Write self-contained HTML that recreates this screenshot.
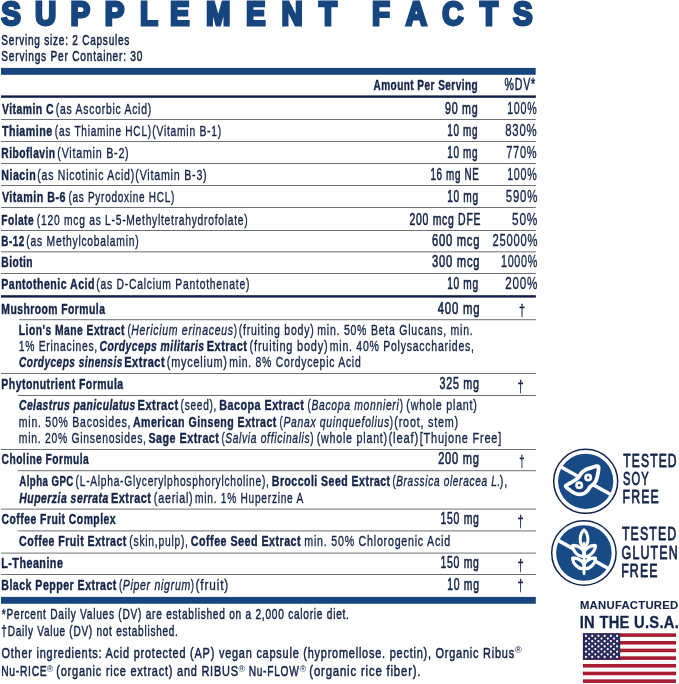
<!DOCTYPE html>
<html lang="en">
<head>
<meta charset="utf-8">
<title>Supplement Facts</title>
<style>
html,body{margin:0;padding:0;background:#fff;}
body{width:679px;height:684px;overflow:hidden;}
svg{display:block;}
text{font-family:"Liberation Sans",sans-serif;font-size:15.3px;fill:#14254a;stroke:#14254a;stroke-width:0;stroke-linejoin:round;}
.r{font-size:15.3px;font-weight:400;stroke-width:0.38;letter-spacing:1.1px;}
.i{font-size:15.3px;font-weight:400;stroke-width:0.38;letter-spacing:1.0px;}
.m{font-size:15.3px;font-weight:400;stroke-width:0.62;letter-spacing:1.1px;}
.b{font-size:15.5px;font-weight:700;stroke-width:0.45;letter-spacing:0.7px;}
.bi{font-size:15.5px;font-weight:700;stroke-width:0.45;letter-spacing:0.7px;}
.i,.bi{font-style:italic;}
</style>
</head>
<body>
<svg width="679" height="684" viewBox="0 0 679 684">
<rect width="679" height="684" fill="#ffffff"/>
<text class="b" transform="scale(0.9069,1)" style="font-size:32.4px;fill:#17467f;stroke:#17467f;stroke-width:2.8;stroke-linejoin:miter;letter-spacing:0" y="24.6" x="1.49 38.49 77.87 115.53 154.26 187.36 227.02 271.30 310.42 351.77 371.56 410.28 447.30 487.72 529.29 565.77">SUPPLEMENT FACTS</text>
<text y="45.00"><tspan x="1.34" textLength="128.78" lengthAdjust="spacingAndGlyphs" class="m" style="font-size:14.4px;stroke-width:0.55;">Serving size: 2 Capsules</tspan></text>
<text y="61.00"><tspan x="1.34" textLength="141.83" lengthAdjust="spacingAndGlyphs" class="m" style="font-size:14.4px;stroke-width:0.55;">Servings Per Container: 30</tspan></text>
<rect x="1.00" y="67.90" width="534.70" height="6.90" fill="#17467f"/>
<rect x="1.00" y="95.40" width="534.90" height="2.40" fill="#101f45"/>
<text y="90.00"><tspan x="373.50" textLength="104.62" lengthAdjust="spacingAndGlyphs" class="b">Amount Per Serving</tspan> <tspan x="504.62" textLength="31.17" lengthAdjust="spacingAndGlyphs" class="m" style="font-size:16.0px;stroke-width:0.5;">%DV*</tspan></text>
<text y="113.90"><tspan x="1.93" textLength="52.07" lengthAdjust="spacingAndGlyphs" class="b">Vitamin C</tspan> <tspan x="55.86" textLength="96.01" lengthAdjust="spacingAndGlyphs" class="r">(as Ascorbic Acid)</tspan> <tspan x="445.00" textLength="33.42" lengthAdjust="spacingAndGlyphs" class="m" style="font-size:16.2px;">90 mg</tspan> <tspan x="507.19" textLength="30.16" lengthAdjust="spacingAndGlyphs" class="r" style="font-size:16.3px;">100%</tspan></text>
<rect x="1.00" y="119.00" width="534.90" height="1.00" fill="#6c7075"/>
<text y="135.90"><tspan x="1.88" textLength="50.72" lengthAdjust="spacingAndGlyphs" class="b">Thiamine</tspan> <tspan x="54.87" textLength="96.98" lengthAdjust="spacingAndGlyphs" class="r">(as Thiamine HCL)</tspan> <tspan x="152.36" textLength="69.51" lengthAdjust="spacingAndGlyphs" class="r">(Vitamin B-1)</tspan> <tspan x="447.24" textLength="31.08" lengthAdjust="spacingAndGlyphs" class="m" style="font-size:16.2px;">10 mg</tspan> <tspan x="505.26" textLength="32.17" lengthAdjust="spacingAndGlyphs" class="r" style="font-size:16.3px;">830%</tspan></text>
<rect x="1.00" y="141.00" width="534.90" height="1.00" fill="#6c7075"/>
<text y="157.70"><tspan x="1.31" textLength="54.29" lengthAdjust="spacingAndGlyphs" class="b">Riboflavin</tspan> <tspan x="57.34" textLength="72.09" lengthAdjust="spacingAndGlyphs" class="r">(Vitamin B-2)</tspan> <tspan x="447.24" textLength="31.08" lengthAdjust="spacingAndGlyphs" class="m" style="font-size:16.2px;">10 mg</tspan> <tspan x="506.18" textLength="31.20" lengthAdjust="spacingAndGlyphs" class="r" style="font-size:16.3px;">770%</tspan></text>
<rect x="1.00" y="163.00" width="534.90" height="1.00" fill="#6c7075"/>
<text y="179.70"><tspan x="1.29" textLength="34.85" lengthAdjust="spacingAndGlyphs" class="b">Niacin</tspan> <tspan x="37.35" textLength="97.54" lengthAdjust="spacingAndGlyphs" class="r">(as Nicotinic Acid)</tspan> <tspan x="135.34" textLength="72.09" lengthAdjust="spacingAndGlyphs" class="r">(Vitamin B-3)</tspan> <tspan x="430.50" textLength="48.83" lengthAdjust="spacingAndGlyphs" class="m" style="font-size:16.2px;">16 mg NE</tspan> <tspan x="507.19" textLength="30.16" lengthAdjust="spacingAndGlyphs" class="r" style="font-size:16.3px;">100%</tspan></text>
<rect x="1.00" y="185.00" width="534.90" height="1.00" fill="#6c7075"/>
<text y="201.70"><tspan x="1.93" textLength="63.94" lengthAdjust="spacingAndGlyphs" class="b">Vitamin B-6</tspan> <tspan x="68.38" textLength="106.71" lengthAdjust="spacingAndGlyphs" class="r">(as Pyrodoxine HCL)</tspan> <tspan x="447.23" textLength="31.61" lengthAdjust="spacingAndGlyphs" class="m" style="font-size:16.2px;">10 mg</tspan> <tspan x="505.79" textLength="32.39" lengthAdjust="spacingAndGlyphs" class="r" style="font-size:16.3px;">590%</tspan></text>
<rect x="1.00" y="207.00" width="534.90" height="1.00" fill="#6c7075"/>
<text y="224.50"><tspan x="1.32" textLength="32.74" lengthAdjust="spacingAndGlyphs" class="b">Folate</tspan> <tspan x="36.86" textLength="211.51" lengthAdjust="spacingAndGlyphs" class="r">(120 mcg as L-5-Methyltetrahydrofolate)</tspan> <tspan x="409.47" textLength="71.68" lengthAdjust="spacingAndGlyphs" class="m" style="font-size:16.2px;">200 mcg DFE</tspan> <tspan x="512.02" textLength="26.20" lengthAdjust="spacingAndGlyphs" class="r" style="font-size:16.3px;">50%</tspan></text>
<rect x="1.00" y="230.00" width="534.90" height="1.00" fill="#6c7075"/>
<text y="246.10"><tspan x="1.34" textLength="23.26" lengthAdjust="spacingAndGlyphs" class="b">B-12</tspan> <tspan x="26.36" textLength="113.02" lengthAdjust="spacingAndGlyphs" class="r">(as Methylcobalamin)</tspan> <tspan x="431.93" textLength="48.30" lengthAdjust="spacingAndGlyphs" class="m" style="font-size:16.2px;">600 mcg</tspan> <tspan x="492.44" textLength="45.72" lengthAdjust="spacingAndGlyphs" class="r" style="font-size:16.3px;">25000%</tspan></text>
<rect x="1.00" y="251.35" width="534.90" height="1.00" fill="#6c7075"/>
<text y="267.30"><tspan x="1.31" textLength="31.78" lengthAdjust="spacingAndGlyphs" class="b">Biotin</tspan> <tspan x="432.07" textLength="48.15" lengthAdjust="spacingAndGlyphs" class="m" style="font-size:16.2px;">300 mcg</tspan> <tspan x="500.93" textLength="37.18" lengthAdjust="spacingAndGlyphs" class="r" style="font-size:16.3px;">1000%</tspan></text>
<rect x="1.00" y="273.00" width="534.90" height="1.00" fill="#6c7075"/>
<text y="289.00"><tspan x="1.30" textLength="93.62" lengthAdjust="spacingAndGlyphs" class="b">Pantothenic Acid</tspan> <tspan x="96.36" textLength="153.78" lengthAdjust="spacingAndGlyphs" class="r">(as D-Calcium Pantothenate)</tspan> <tspan x="447.23" textLength="31.61" lengthAdjust="spacingAndGlyphs" class="m" style="font-size:16.2px;">10 mg</tspan> <tspan x="505.16" textLength="33.04" lengthAdjust="spacingAndGlyphs" class="r" style="font-size:16.3px;">200%</tspan></text>
<rect x="1.00" y="295.20" width="534.90" height="2.40" fill="#101f45"/>
<text y="313.60"><tspan x="1.31" textLength="104.09" lengthAdjust="spacingAndGlyphs" class="b">Mushroom Formula</tspan> <tspan x="437.74" textLength="42.51" lengthAdjust="spacingAndGlyphs" class="m" style="font-size:16.2px;">400 mg</tspan></text>
<text y="315.80"><tspan x="519.07" textLength="6.06" lengthAdjust="spacingAndGlyphs" class="r" style="font-size:17.3px;stroke-width:0.35;letter-spacing:0.0001px;">†</tspan></text>
<rect x="19.30" y="319.20" width="516.60" height="1.00" fill="#6c7075"/>
<text y="334.50"><tspan x="18.81" textLength="106.03" lengthAdjust="spacingAndGlyphs" class="b">Lion's Mane Extract</tspan> <tspan x="127.39" textLength="3.97" lengthAdjust="spacingAndGlyphs" class="r">(</tspan><tspan x="131.18" textLength="102.53" lengthAdjust="spacingAndGlyphs" class="i">Hericium erinaceus</tspan><tspan x="233.64" textLength="3.89" lengthAdjust="spacingAndGlyphs" class="r">)</tspan> <tspan x="238.85" textLength="75.56" lengthAdjust="spacingAndGlyphs" class="r">(fruiting body)</tspan> <tspan x="317.30" textLength="156.17" lengthAdjust="spacingAndGlyphs" class="r">min. 50% Beta Glucans, min.</tspan></text>
<text y="351.20"><tspan x="18.71" textLength="79.20" lengthAdjust="spacingAndGlyphs" class="r">1% Erinacines,</tspan> <tspan x="99.49" textLength="105.08" lengthAdjust="spacingAndGlyphs" class="bi">Cordyceps militaris</tspan> <tspan x="206.77" textLength="40.61" lengthAdjust="spacingAndGlyphs" class="b">Extract</tspan> <tspan x="249.62" textLength="78.85" lengthAdjust="spacingAndGlyphs" class="r">(fruiting body)</tspan> <tspan x="329.80" textLength="144.89" lengthAdjust="spacingAndGlyphs" class="r">min. 40% Polysaccharides,</tspan></text>
<text y="366.75"><tspan x="19.01" textLength="103.80" lengthAdjust="spacingAndGlyphs" class="bi">Cordyceps sinensis</tspan> <tspan x="124.26" textLength="40.87" lengthAdjust="spacingAndGlyphs" class="b">Extract</tspan> <tspan x="166.83" textLength="60.88" lengthAdjust="spacingAndGlyphs" class="r">(mycelium)</tspan> <tspan x="229.31" textLength="132.10" lengthAdjust="spacingAndGlyphs" class="r">min. 8% Cordycepic Acid</tspan></text>
<rect x="1.00" y="373.00" width="534.90" height="1.00" fill="#6c7075"/>
<text y="388.50"><tspan x="1.30" textLength="122.36" lengthAdjust="spacingAndGlyphs" class="b">Phytonutrient Formula</tspan> <tspan x="439.59" textLength="40.07" lengthAdjust="spacingAndGlyphs" class="m" style="font-size:16.2px;">325 mg</tspan></text>
<text y="391.50"><tspan x="517.55" textLength="6.20" lengthAdjust="spacingAndGlyphs" class="r" style="font-size:17.3px;stroke-width:0.35;letter-spacing:0.0001px;">†</tspan></text>
<rect x="17.70" y="395.00" width="518.20" height="1.00" fill="#6c7075"/>
<text y="410.25"><tspan x="19.00" textLength="116.82" lengthAdjust="spacingAndGlyphs" class="bi">Celastrus paniculatus</tspan> <tspan x="137.51" textLength="41.13" lengthAdjust="spacingAndGlyphs" class="b">Extract</tspan> <tspan x="180.62" textLength="36.51" lengthAdjust="spacingAndGlyphs" class="r">(seed),</tspan> <tspan x="219.28" textLength="85.09" lengthAdjust="spacingAndGlyphs" class="b">Bacopa Extract</tspan> <tspan x="307.59" textLength="3.97" lengthAdjust="spacingAndGlyphs" class="r">(</tspan><tspan x="311.48" textLength="87.96" lengthAdjust="spacingAndGlyphs" class="i">Bacopa monnieri</tspan><tspan x="399.84" textLength="3.97" lengthAdjust="spacingAndGlyphs" class="r">)</tspan> <tspan x="406.34" textLength="71.35" lengthAdjust="spacingAndGlyphs" class="r">(whole plant)</tspan></text>
<text y="426.50"><tspan x="18.80" textLength="112.40" lengthAdjust="spacingAndGlyphs" class="r">min. 50% Bacosides,</tspan> <tspan x="132.99" textLength="143.87" lengthAdjust="spacingAndGlyphs" class="b">American Ginseng Extract</tspan> <tspan x="279.59" textLength="3.97" lengthAdjust="spacingAndGlyphs" class="r">(</tspan><tspan x="283.48" textLength="106.41" lengthAdjust="spacingAndGlyphs" class="i">Panax quinquefolius</tspan><tspan x="389.84" textLength="3.97" lengthAdjust="spacingAndGlyphs" class="r">)</tspan> <tspan x="394.33" textLength="64.62" lengthAdjust="spacingAndGlyphs" class="r">(root, stem)</tspan></text>
<text y="442.80"><tspan x="18.81" textLength="127.86" lengthAdjust="spacingAndGlyphs" class="r">min. 20% Ginsenosides,</tspan> <tspan x="148.44" textLength="70.93" lengthAdjust="spacingAndGlyphs" class="b">Sage Extract</tspan> <tspan x="221.39" textLength="3.97" lengthAdjust="spacingAndGlyphs" class="r">(</tspan><tspan x="225.21" textLength="85.17" lengthAdjust="spacingAndGlyphs" class="i">Salvia officinalis</tspan><tspan x="310.34" textLength="3.97" lengthAdjust="spacingAndGlyphs" class="r">)</tspan> <tspan x="316.74" textLength="71.19" lengthAdjust="spacingAndGlyphs" class="r">(whole plant)</tspan> <tspan x="388.55" textLength="30.45" lengthAdjust="spacingAndGlyphs" class="r">(leaf)</tspan> <tspan x="419.72" textLength="82.35" lengthAdjust="spacingAndGlyphs" class="r">[Thujone Free]</tspan></text>
<rect x="1.00" y="449.00" width="534.90" height="1.00" fill="#6c7075"/>
<text y="464.20"><tspan x="1.58" textLength="87.57" lengthAdjust="spacingAndGlyphs" class="b">Choline Formula</tspan> <tspan x="438.19" textLength="41.53" lengthAdjust="spacingAndGlyphs" class="m" style="font-size:16.2px;">200 mg</tspan></text>
<text y="466.60"><tspan x="519.36" textLength="5.27" lengthAdjust="spacingAndGlyphs" class="r" style="font-size:17.3px;stroke-width:0.35;letter-spacing:0.0001px;">†</tspan></text>
<rect x="17.70" y="470.20" width="518.20" height="1.00" fill="#6c7075"/>
<text y="485.75"><tspan x="19.26" textLength="54.44" lengthAdjust="spacingAndGlyphs" class="b">Alpha GPC</tspan> <tspan x="75.62" textLength="194.04" lengthAdjust="spacingAndGlyphs" class="r">(L-Alpha-Glycerylphosphorylcholine),</tspan> <tspan x="271.80" textLength="118.81" lengthAdjust="spacingAndGlyphs" class="b">Broccoli Seed Extract</tspan> <tspan x="392.39" textLength="3.97" lengthAdjust="spacingAndGlyphs" class="r">(</tspan><tspan x="396.19" textLength="104.71" lengthAdjust="spacingAndGlyphs" class="i">Brassica oleracea L.</tspan><tspan x="499.84" textLength="8.16" lengthAdjust="spacingAndGlyphs" class="r">),</tspan></text>
<text y="502.60"><tspan x="19.32" textLength="89.46" lengthAdjust="spacingAndGlyphs" class="bi">Huperzia serrata</tspan> <tspan x="111.02" textLength="40.35" lengthAdjust="spacingAndGlyphs" class="b">Extract</tspan> <tspan x="153.83" textLength="39.60" lengthAdjust="spacingAndGlyphs" class="r">(aerial)</tspan> <tspan x="195.08" textLength="108.92" lengthAdjust="spacingAndGlyphs" class="r">min. 1% Huperzine A</tspan></text>
<rect x="1.00" y="508.60" width="534.90" height="1.00" fill="#6c7075"/>
<text y="524.30"><tspan x="1.57" textLength="114.47" lengthAdjust="spacingAndGlyphs" class="b">Coffee Fruit Complex</tspan> <tspan x="440.45" textLength="39.18" lengthAdjust="spacingAndGlyphs" class="m" style="font-size:16.2px;">150 mg</tspan></text>
<text y="526.60"><tspan x="517.55" textLength="6.20" lengthAdjust="spacingAndGlyphs" class="r" style="font-size:17.3px;stroke-width:0.35;letter-spacing:0.0001px;">†</tspan></text>
<rect x="17.70" y="530.40" width="518.20" height="1.00" fill="#6c7075"/>
<text y="546.20"><tspan x="19.07" textLength="107.79" lengthAdjust="spacingAndGlyphs" class="b">Coffee Fruit Extract</tspan> <tspan x="129.36" textLength="59.31" lengthAdjust="spacingAndGlyphs" class="r">(skin,pulp),</tspan> <tspan x="190.81" textLength="110.30" lengthAdjust="spacingAndGlyphs" class="b">Coffee Seed Extract</tspan> <tspan x="304.29" textLength="146.65" lengthAdjust="spacingAndGlyphs" class="r">min. 50% Chlorogenic Acid</tspan></text>
<rect x="1.00" y="552.60" width="534.90" height="1.00" fill="#6c7075"/>
<text y="568.40"><tspan x="1.28" textLength="62.07" lengthAdjust="spacingAndGlyphs" class="b">L-Theanine</tspan> <tspan x="440.45" textLength="39.18" lengthAdjust="spacingAndGlyphs" class="m" style="font-size:16.2px;">150 mg</tspan></text>
<text y="570.50"><tspan x="517.55" textLength="6.20" lengthAdjust="spacingAndGlyphs" class="r" style="font-size:17.3px;stroke-width:0.35;letter-spacing:0.0001px;">†</tspan></text>
<rect x="1.00" y="574.00" width="534.90" height="1.00" fill="#6c7075"/>
<text y="589.75"><tspan x="1.29" textLength="115.57" lengthAdjust="spacingAndGlyphs" class="b">Black Pepper Extract</tspan> <tspan x="118.89" textLength="3.97" lengthAdjust="spacingAndGlyphs" class="r">(</tspan><tspan x="122.67" textLength="68.31" lengthAdjust="spacingAndGlyphs" class="i">Piper nigrum</tspan><tspan x="190.64" textLength="3.89" lengthAdjust="spacingAndGlyphs" class="r">)</tspan> <tspan x="195.52" textLength="33.57" lengthAdjust="spacingAndGlyphs" class="r">(fruit)</tspan> <tspan x="447.21" textLength="32.42" lengthAdjust="spacingAndGlyphs" class="m" style="font-size:16.2px;">10 mg</tspan></text>
<text y="591.30"><tspan x="517.55" textLength="6.20" lengthAdjust="spacingAndGlyphs" class="r" style="font-size:17.3px;stroke-width:0.35;letter-spacing:0.0001px;">†</tspan></text>
<rect x="1.00" y="596.90" width="534.80" height="6.85" fill="#17467f"/>
<text y="618.75"><tspan x="1.84" textLength="347.84" lengthAdjust="spacingAndGlyphs" class="m" style="font-size:14.8px;stroke-width:0.5;">*Percent Daily Values (DV) are established on a 2,000 calorie diet.</tspan></text>
<text y="635.50"><tspan x="1.33" textLength="177.33" lengthAdjust="spacingAndGlyphs" class="m" style="font-size:14.8px;stroke-width:0.5;">†Daily Value (DV) not established.</tspan></text>
<text y="657.50"><tspan x="1.48" textLength="513.44" lengthAdjust="spacingAndGlyphs" class="m" style="font-size:15.4px;stroke-width:0.55;">Other ingredients: Acid protected (AP) vegan capsule (hypromellose. pectin), Organic Ribus</tspan><tspan x="514.86" textLength="8.27" lengthAdjust="spacingAndGlyphs" class="r" style="font-size:8.6px;stroke-width:0.0;" dy="-4.3">®</tspan></text>
<text y="676.25"><tspan x="1.16" textLength="46.27" lengthAdjust="spacingAndGlyphs" class="m" style="font-size:15.4px;stroke-width:0.55;">Nu-RICE</tspan><tspan x="46.87" textLength="7.65" lengthAdjust="spacingAndGlyphs" class="r" style="font-size:8.6px;stroke-width:0.0;" dy="-4.3">®</tspan> <tspan x="56.32" textLength="182.46" lengthAdjust="spacingAndGlyphs" class="m" style="font-size:15.4px;stroke-width:0.55;" dy="4.3">(organic rice extract) and RIBUS</tspan><tspan x="238.62" textLength="7.65" lengthAdjust="spacingAndGlyphs" class="r" style="font-size:8.6px;stroke-width:0.0;" dy="-4.3">®</tspan> <tspan x="248.67" textLength="50.85" lengthAdjust="spacingAndGlyphs" class="m" style="font-size:15.4px;stroke-width:0.55;" dy="4.3">Nu-FLOW</tspan><tspan x="299.87" textLength="7.65" lengthAdjust="spacingAndGlyphs" class="r" style="font-size:8.6px;stroke-width:0.0;" dy="-4.3">®</tspan> <tspan x="309.29" textLength="112.06" lengthAdjust="spacingAndGlyphs" class="m" style="font-size:15.4px;stroke-width:0.55;" dy="4.3">(organic rice fiber).</tspan></text>
<g><circle cx="585.7" cy="481.3" r="32.0" fill="#fff" stroke="#14264f" stroke-width="1.5"/><circle cx="585.7" cy="481.3" r="27.6" fill="#184a86"/><line x1="559.35" y1="465.92" x2="611.66" y2="494.91" stroke="#fff" stroke-width="3.5"/><path d="M565.63,485.98 C565.85,484.98 568.39,484.16 569.94,483.19 C571.49,482.23 573.42,481.26 574.91,480.21 C576.40,479.16 577.78,478.11 578.89,476.90 C579.99,475.68 580.32,474.16 581.54,472.92 C582.75,471.69 584.46,470.36 586.18,469.48 C587.89,468.59 590.04,468.18 591.81,467.62 C593.58,467.06 595.65,466.21 596.78,466.10 C597.91,465.99 598.31,466.10 598.57,466.96 C598.82,467.82 598.49,469.77 598.30,471.27 C598.12,472.76 597.83,474.36 597.44,475.90 C597.06,477.45 596.65,479.20 595.98,480.54 C595.32,481.89 594.47,482.91 593.47,483.99 C592.46,485.07 590.89,485.98 589.95,487.04 C589.01,488.10 588.74,489.34 587.83,490.35 C586.93,491.37 585.96,492.45 584.52,493.13 C583.08,493.82 581.04,494.55 579.22,494.46 C577.40,494.37 575.35,493.49 573.59,492.60 C571.82,491.72 569.94,490.26 568.61,489.16 C567.29,488.05 565.41,486.97 565.63,485.98Z" fill="#15407a" stroke="#fff" stroke-width="3.8" stroke-linejoin="round"/><circle cx="588.16" cy="477.56" r="4.0" fill="#fff"/><circle cx="588.16" cy="477.56" r="1.2" fill="#15407a"/><circle cx="579.22" cy="485.18" r="4.0" fill="#fff"/><circle cx="579.22" cy="485.18" r="1.2" fill="#15407a"/></g>
<g><circle cx="583.9" cy="553.0" r="32.2" fill="#fff" stroke="#14264f" stroke-width="1.5"/><circle cx="583.9" cy="553.0" r="27.8" fill="#184a86"/><line x1="556.81" y1="539.65" x2="609.66" y2="569.18" stroke="#fff" stroke-width="3.5"/><path d="M584.05,547.06 C589.59,544.49 588.77,534.23 584.05,529.95 C579.34,534.23 578.52,544.49 584.05,547.06Z M584.05,555.78 C585.69,550.52 578.33,544.86 572.61,545.42 C572.62,551.17 578.99,557.93 584.05,555.78Z M584.05,555.78 C589.12,557.93 595.49,551.17 595.50,545.42 C589.78,544.86 582.42,550.52 584.05,555.78Z M584.05,568.09 C585.65,562.83 578.29,557.31 572.61,557.96 C572.65,563.68 579.02,570.31 584.05,568.09Z M584.05,568.09 C589.08,570.31 595.46,563.68 595.50,557.96 C589.81,557.31 582.46,562.83 584.05,568.09Z" fill="#184a86" stroke="#fff" stroke-width="3.1" stroke-linejoin="round"/><line x1="584.05" y1="543.24" x2="584.05" y2="573.76" stroke="#fff" stroke-width="2.9" stroke-linecap="round"/></g>
<text y="466.80"><tspan x="623.33" textLength="54.35" lengthAdjust="spacingAndGlyphs" class="m" style="font-size:18.8px;stroke-width:0.85;letter-spacing:1.7px;">TESTED</tspan></text>
<text y="485.40"><tspan x="623.10" textLength="26.45" lengthAdjust="spacingAndGlyphs" class="m" style="font-size:18.8px;stroke-width:0.85;letter-spacing:1.7px;">SOY</tspan></text>
<text y="503.10"><tspan x="622.59" textLength="37.25" lengthAdjust="spacingAndGlyphs" class="m" style="font-size:18.8px;stroke-width:0.85;letter-spacing:1.7px;">FREE</tspan></text>
<text y="539.90"><tspan x="621.92" textLength="55.49" lengthAdjust="spacingAndGlyphs" class="m" style="font-size:18.8px;stroke-width:0.85;letter-spacing:1.7px;">TESTED</tspan></text>
<text y="558.50"><tspan x="621.57" textLength="57.27" lengthAdjust="spacingAndGlyphs" class="m" style="font-size:18.8px;stroke-width:0.85;letter-spacing:1.7px;">GLUTEN</tspan></text>
<text y="576.60"><tspan x="621.19" textLength="37.46" lengthAdjust="spacingAndGlyphs" class="m" style="font-size:18.8px;stroke-width:0.85;letter-spacing:1.7px;">FREE</tspan></text>
<text y="609.10"><tspan x="579.95" textLength="98.57" lengthAdjust="spacingAndGlyphs" class="b" style="font-size:11.6px;stroke-width:0.1;letter-spacing:0.25px;">MANUFACTURED</tspan></text>
<text y="627.50"><tspan x="579.72" textLength="99.38" lengthAdjust="spacingAndGlyphs" class="b" style="font-size:15.6px;stroke-width:0.3;letter-spacing:0.3px;">IN THE U.S.A.</tspan></text>
<g><rect x="582.9" y="633.3" width="93.10" height="50.70" fill="#fff"/><rect x="582.9" y="633.30" width="93.10" height="3.6" fill="#a61c30"/><rect x="582.9" y="640.97" width="93.10" height="3.6" fill="#a61c30"/><rect x="582.9" y="648.64" width="93.10" height="3.6" fill="#a61c30"/><rect x="582.9" y="656.31" width="93.10" height="3.6" fill="#a61c30"/><rect x="582.9" y="663.98" width="93.10" height="3.6" fill="#a61c30"/><rect x="582.9" y="671.65" width="93.10" height="3.6" fill="#a61c30"/><rect x="582.9" y="679.32" width="93.10" height="3.6" fill="#a61c30"/><rect x="582.9" y="633.3" width="37.30" height="26.30" fill="#2a2c5e"/><circle cx="586.01" cy="635.93" r="1.1" fill="#fff"/><circle cx="592.23" cy="635.93" r="1.1" fill="#fff"/><circle cx="598.44" cy="635.93" r="1.1" fill="#fff"/><circle cx="604.66" cy="635.93" r="1.1" fill="#fff"/><circle cx="610.88" cy="635.93" r="1.1" fill="#fff"/><circle cx="617.09" cy="635.93" r="1.1" fill="#fff"/><circle cx="589.12" cy="638.56" r="1.1" fill="#fff"/><circle cx="595.33" cy="638.56" r="1.1" fill="#fff"/><circle cx="601.55" cy="638.56" r="1.1" fill="#fff"/><circle cx="607.77" cy="638.56" r="1.1" fill="#fff"/><circle cx="613.98" cy="638.56" r="1.1" fill="#fff"/><circle cx="586.01" cy="641.19" r="1.1" fill="#fff"/><circle cx="592.23" cy="641.19" r="1.1" fill="#fff"/><circle cx="598.44" cy="641.19" r="1.1" fill="#fff"/><circle cx="604.66" cy="641.19" r="1.1" fill="#fff"/><circle cx="610.88" cy="641.19" r="1.1" fill="#fff"/><circle cx="617.09" cy="641.19" r="1.1" fill="#fff"/><circle cx="589.12" cy="643.82" r="1.1" fill="#fff"/><circle cx="595.33" cy="643.82" r="1.1" fill="#fff"/><circle cx="601.55" cy="643.82" r="1.1" fill="#fff"/><circle cx="607.77" cy="643.82" r="1.1" fill="#fff"/><circle cx="613.98" cy="643.82" r="1.1" fill="#fff"/><circle cx="586.01" cy="646.45" r="1.1" fill="#fff"/><circle cx="592.23" cy="646.45" r="1.1" fill="#fff"/><circle cx="598.44" cy="646.45" r="1.1" fill="#fff"/><circle cx="604.66" cy="646.45" r="1.1" fill="#fff"/><circle cx="610.88" cy="646.45" r="1.1" fill="#fff"/><circle cx="617.09" cy="646.45" r="1.1" fill="#fff"/><circle cx="589.12" cy="649.08" r="1.1" fill="#fff"/><circle cx="595.33" cy="649.08" r="1.1" fill="#fff"/><circle cx="601.55" cy="649.08" r="1.1" fill="#fff"/><circle cx="607.77" cy="649.08" r="1.1" fill="#fff"/><circle cx="613.98" cy="649.08" r="1.1" fill="#fff"/><circle cx="586.01" cy="651.71" r="1.1" fill="#fff"/><circle cx="592.23" cy="651.71" r="1.1" fill="#fff"/><circle cx="598.44" cy="651.71" r="1.1" fill="#fff"/><circle cx="604.66" cy="651.71" r="1.1" fill="#fff"/><circle cx="610.88" cy="651.71" r="1.1" fill="#fff"/><circle cx="617.09" cy="651.71" r="1.1" fill="#fff"/><circle cx="589.12" cy="654.34" r="1.1" fill="#fff"/><circle cx="595.33" cy="654.34" r="1.1" fill="#fff"/><circle cx="601.55" cy="654.34" r="1.1" fill="#fff"/><circle cx="607.77" cy="654.34" r="1.1" fill="#fff"/><circle cx="613.98" cy="654.34" r="1.1" fill="#fff"/><circle cx="586.01" cy="656.97" r="1.1" fill="#fff"/><circle cx="592.23" cy="656.97" r="1.1" fill="#fff"/><circle cx="598.44" cy="656.97" r="1.1" fill="#fff"/><circle cx="604.66" cy="656.97" r="1.1" fill="#fff"/><circle cx="610.88" cy="656.97" r="1.1" fill="#fff"/><circle cx="617.09" cy="656.97" r="1.1" fill="#fff"/></g>
</svg>
</body>
</html>
